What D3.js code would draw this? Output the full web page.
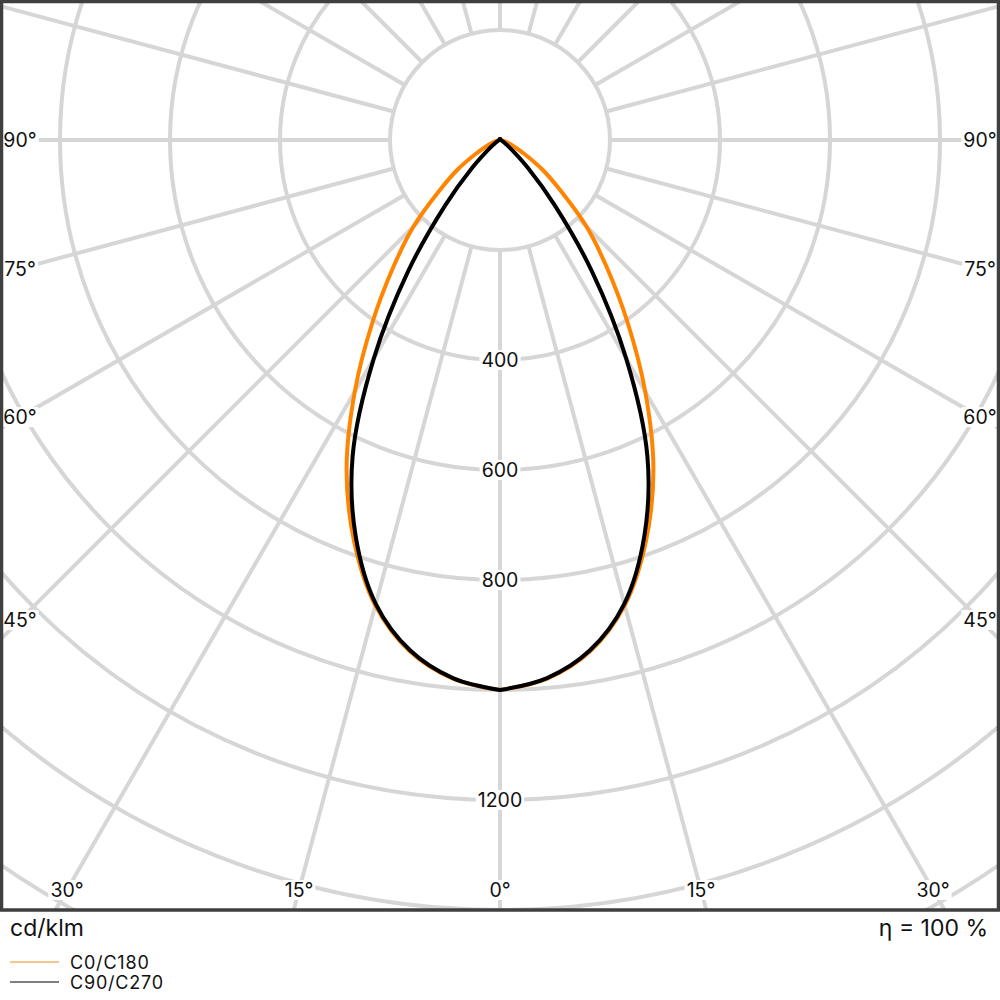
<!DOCTYPE html>
<html>
<head>
<meta charset="utf-8">
<script src="https://cdn.jsdelivr.net/npm/d3@7"></script>
<style>
  body { margin: 0; background: #fff; }
  svg { display: block; font-family: Inter, "Noto Sans", sans-serif; }
</style>
</head>
<body>
<div class="visHolder"></div>
<script>
var width = 1000,
    height = 1000,
    frameH = 910;

// gamma angles (deg from nadir) and intensities in cd/klm
var gammaAngles = [0,5,10,15,20,25,30,35,40,45,50,55,60,65,70,75,80,85,90,
                   95,100,105,110,115,120,125,130,135,140,145,150,155,160,165,170,175,180];
var c0c180 = [1000,983,944,876,776,660,528,404,302,222,145,95,52,28,15,8,4,2,1,
              1,1,1,1,1,1,1,1,1,1,1,1,1,1,2,2,2,2];
var c90c270 = [1000,982,942,873,767,634,459,291,155,72,30,14,8,5,3,2,1,1,1,
               1,1,1,1,1,1,1,1,1,1,1,1,1,1,2,2,2,2];

var ringValues = [200,400,600,800,1000,1200,1400,1600,1800];
var ringLabels = [400,600,800,1200];
var spokeAngles = d3.range(0, 360, 15);
var angleTicks = [0,15,30,45,60,75,90];

var seriesNames = ['C0/C180', 'C90/C270'];

var cx = 500, cy = 140;

var rScale = d3.scaleLinear().domain([0, 200]).range([0, 110]);

var svg = d3.select('.visHolder')
  .append('svg')
  .attr('width', width)
  .attr('height', height);

svg.append('clipPath')
  .attr('id', 'frameClip')
  .append('rect')
  .attr('x', 0).attr('y', 0)
  .attr('width', width).attr('height', frameH);

var plot = svg.append('g').attr('clip-path', 'url(#frameClip)');
var g = plot.append('g').attr('transform', 'translate(' + cx + ',' + cy + ')');

// grid circles
g.selectAll('circle.ring')
  .data(ringValues)
  .enter()
  .append('circle')
  .attr('class', 'ring')
  .attr('r', d => rScale(d))
  .attr('fill', 'none')
  .attr('stroke', '#d6d6d6')
  .attr('stroke-width', 4);

// spokes, every 15 deg, starting at the inner ring
g.selectAll('line.spoke')
  .data(spokeAngles)
  .enter()
  .append('line')
  .attr('class', 'spoke')
  .attr('x1', d => rScale(200) * Math.sin(d * Math.PI / 180))
  .attr('y1', d => rScale(200) * Math.cos(d * Math.PI / 180))
  .attr('x2', d => rScale(1900) * Math.sin(d * Math.PI / 180))
  .attr('y2', d => rScale(1900) * Math.cos(d * Math.PI / 180))
  .attr('stroke', '#d6d6d6')
  .attr('stroke-width', 4);

// each half drawn as its own smooth curve, so the nadir keeps a small point
var radial = d3.lineRadial().curve(d3.curveCatmullRom.alpha(0.5));
function polarPath(values) {
  var right = gammaAngles.map((a, i) => [Math.PI - a * Math.PI / 180, rScale(values[i])]);
  var left = gammaAngles.map((a, i) => [Math.PI + a * Math.PI / 180, rScale(values[i])]);
  return radial(right) + radial(left);
}

g.append('path')
  .attr('d', polarPath(c0c180))
  .attr('fill', 'none')
  .attr('stroke', '#ff8500')
  .attr('stroke-width', 4)
  .attr('stroke-linecap', 'round')
  .attr('stroke-linejoin', 'round');

g.append('path')
  .attr('d', polarPath(c90c270))
  .attr('fill', 'none')
  .attr('stroke', '#000')
  .attr('stroke-width', 4)
  .attr('stroke-linecap', 'round')
  .attr('stroke-linejoin', 'round');

// labels with white background
function addLabel(parent, x, y, txt) {
  var lg = parent.append('g');
  var t = lg.append('text')
    .attr('x', x).attr('y', y)
    .attr('dy', '0.36em')
    .attr('text-anchor', 'middle')
    .attr('font-size', 19.5)
    .attr('fill', '#111')
    .text(txt);
  var b = t.node().getBBox();
  lg.insert('rect', 'text')
    .attr('x', b.x - 2).attr('y', b.y + 2)
    .attr('width', b.width + 4).attr('height', b.height - 4)
    .attr('fill', '#fff');
}

ringLabels.forEach(function (v) {
  addLabel(g, 0, rScale(v), v);
});

// angle labels sit where the spoke meets a rectangle inset 20px from the frame
var inset = 20;
angleTicks.forEach(function (a) {
  var rad = a * Math.PI / 180;
  var s = Math.sin(rad), c = Math.cos(rad);
  var tSide = s > 1e-6 ? (cx - inset) / s : Infinity;
  var tBottom = c > 1e-6 ? (frameH - inset - cy) / c : Infinity;
  var t = Math.min(tSide, tBottom);
  addLabel(g, t * s, t * c, a + '°');
  if (a !== 0) addLabel(g, -t * s, t * c, a + '°');
});

// frame
svg.append('rect')
  .attr('x', 1.5).attr('y', 1.5)
  .attr('width', width - 3).attr('height', frameH - 1.5)
  .attr('fill', 'none')
  .attr('stroke', '#3f3f3f')
  .attr('stroke-width', 3.5);

svg.append('text')
  .attr('x', 10).attr('y', 936)
  .attr('font-size', 23)
  .attr('fill', '#111')
  .text('cd/klm');

svg.append('text')
  .attr('x', 988).attr('y', 936)
  .attr('text-anchor', 'end')
  .attr('font-size', 23)
  .attr('fill', '#111')
  .text('η = 100 %');

// legend
var legendColors = ['#f5c690', '#808080'];
var legend = svg.selectAll('g.legend')
  .data(seriesNames)
  .enter()
  .append('g')
  .attr('class', 'legend')
  .attr('transform', (d, i) => 'translate(0,' + (962 + i * 20) + ')');

legend.append('line')
  .attr('x1', 10).attr('x2', 59)
  .attr('stroke', (d, i) => legendColors[i])
  .attr('stroke-width', 2);

legend.append('text')
  .attr('x', 70).attr('y', 6.5)
  .attr('font-size', 18)
  .attr('letter-spacing', 0.8)
  .attr('fill', '#111')
  .text(d => d);
</script>
</body>
</html>
